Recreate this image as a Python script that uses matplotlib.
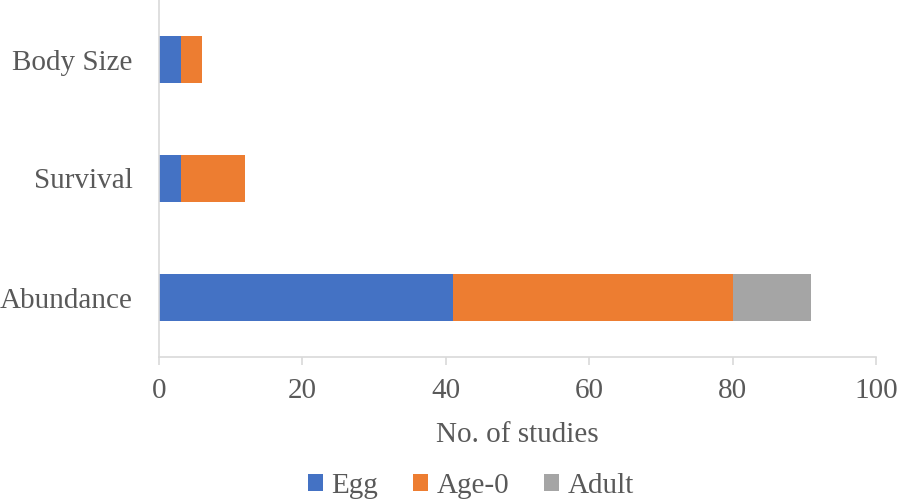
import matplotlib.pyplot as plt
import numpy as np

categories = ['Abundance', 'Survival', 'Body Size']
egg = [41, 3, 3]
age0 = [39, 9, 3]
adult = [11, 0, 0]
series_names = ['Egg', 'Age-0', 'Adult']
colors = ['#4472C4', '#ED7D31', '#A5A5A5']
xticks = [0, 20, 40, 60, 80, 100]

plt.rcParams['font.family'] = ['Liberation Serif', 'DejaVu Serif']
text_col = '#595959'
fs = 21

fig = plt.figure(figsize=(8.98, 4.99), dpi=100)
ax = fig.add_axes([159 / 898, 1 - 357 / 499, (876 - 159) / 898, 357 / 499])

y = np.arange(len(categories))
left = np.zeros(len(categories))
for vals, name, c in zip([egg, age0, adult], series_names, colors):
    ax.barh(y, vals, left=left, height=0.4, color=c, label=name,
            edgecolor='none')
    left += np.array(vals)

ax.set_xlim(0, 100)
ax.set_ylim(-0.5, 2.5)
ax.set_yticks(y)
ax.set_yticklabels(categories)
ax.set_xticks(xticks)

for s in ['top', 'right']:
    ax.spines[s].set_visible(False)
for s in ['left', 'bottom']:
    ax.spines[s].set_color('#D9D9D9')
    ax.spines[s].set_linewidth(1.2)

ax.tick_params(axis='y', length=0, pad=19, labelsize=fs, labelcolor=text_col)
ax.tick_params(axis='x', length=6, width=1.2, color='#D9D9D9', pad=9,
               labelsize=fs, labelcolor=text_col)

ax.set_xlabel('No. of studies', fontsize=fs, color=text_col, labelpad=13)

fig.legend(loc='center', bbox_to_anchor=(471 / 898, 1 - 486 / 499), ncol=3,
           frameon=False, fontsize=fs, labelcolor=text_col,
           handlelength=0.5, handleheight=0.5, handletextpad=0.3,
           columnspacing=1.2)

fig.savefig('out.png', dpi=100)
